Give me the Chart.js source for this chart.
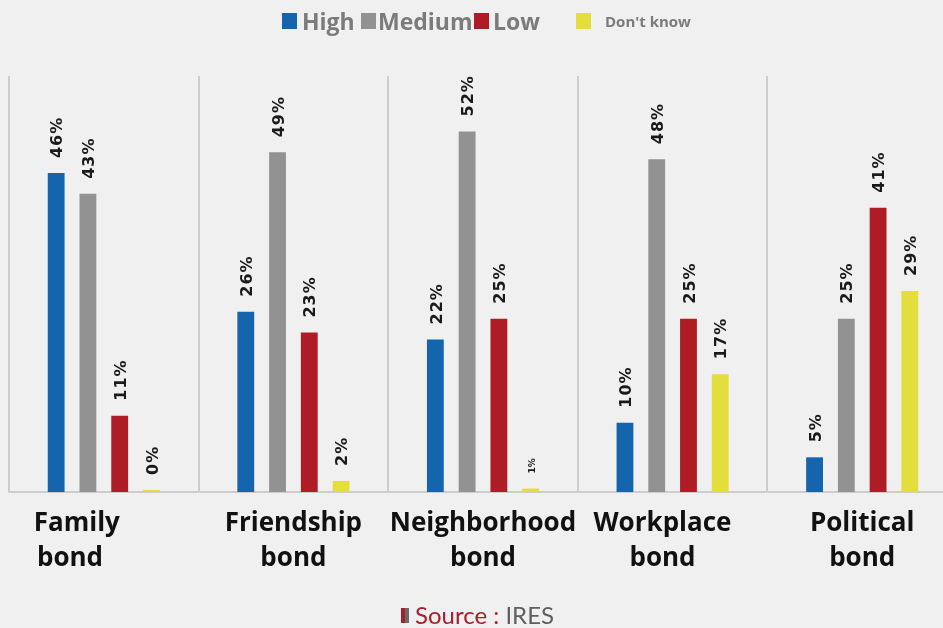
<!DOCTYPE html>
<html>
<head>
<meta charset="utf-8">
<script src="https://cdn.jsdelivr.net/npm/chart.js@4.4.0/dist/chart.umd.min.js"></script>
<style>
  html,body{margin:0;padding:0;background:#f0f0f0;width:943px;height:628px;overflow:hidden;}
  #wrap{position:absolute;left:0;top:0;width:960px;height:628px;}
  #legend{position:absolute;left:0;top:0;width:943px;height:40px;font-family:"Open Sans",sans-serif;font-weight:700;color:#7b7b7b;}
  .lg{position:absolute;top:13px;display:flex;align-items:center;white-space:nowrap;}
  .sw{width:15px;height:16px;display:inline-block;}
  #source{position:absolute;left:401px;top:600px;height:30px;font-family:Lato,"Open Sans",sans-serif;font-size:24px;line-height:30px;white-space:nowrap;display:flex;align-items:center;}
  #source .ic{display:inline-block;width:4px;height:15px;background:#a51f2c;border-right:4px solid #6a6a6a;margin-right:6px;}
  #source .s{color:#a51f2c;}
  #source .i{color:#606060;}
</style>
</head>
<body>
<div id="wrap"><canvas id="c"></canvas></div>
<div id="legend"></div>
<div id="source"><span class="ic"></span><span class="s">Source :&nbsp;</span><span class="i">IRES</span></div>
<script>
// ---- data ----
const categories = [["Family        ", "bond          "], ["Friendship", "bond"], ["Neighborhood", "bond"], ["Workplace   ", "bond   "], ["Political", "bond"]];
const seriesNames = ["High", "Medium", "Low", "Don't know"];
const highValues = [46, 26, 22, 10, 5];
const mediumValues = [43, 49, 52, 48, 25];
const lowValues = [11, 23, 25, 25, 41];
const dontKnowValues = [0.3, 1.6, 0.5, 17, 29];

// ---- styles ----
const colors = ["#1465ad", "#929292", "#ae1d25", "#e3de3c"];
const legendLayout = [
  {left: 282, font: 23, gap: 5},
  {left: 361, font: 23, gap: 2},
  {left: 474, font: 23, gap: 4},
  {left: 576, font: 15, gap: 14}
];

const legendEl = document.getElementById('legend');
seriesNames.forEach((n, i) => {
  const d = document.createElement('div');
  d.className = 'lg';
  d.style.left = legendLayout[i].left + 'px';
  d.style.height = '16px';
  const sw = document.createElement('span');
  sw.className = 'sw';
  sw.style.background = colors[i];
  const t = document.createElement('span');
  t.textContent = n;
  t.style.fontSize = legendLayout[i].font + 'px';
  t.style.marginLeft = legendLayout[i].gap + 'px';
  t.style.lineHeight = '16px';
  d.appendChild(sw); d.appendChild(t);
  legendEl.appendChild(d);
});

const valueLabels = {
  id: 'valueLabels',
  afterDatasetsDraw(chart) {
    const ctx = chart.ctx;
    chart.data.datasets.forEach((ds, di) => {
      const meta = chart.getDatasetMeta(di);
      meta.data.forEach((bar, i) => {
        const v = ds.data[i];
        const size = (ds.labelSizes && ds.labelSizes[i]) || 16;
        ctx.save();
        ctx.translate(bar.x + 2, bar.y - 15);
        ctx.rotate(-Math.PI / 2);
        ctx.font = 'bold ' + size + 'px "DejaVu Sans"';
        if ('letterSpacing' in ctx) ctx.letterSpacing = size > 10 ? '1px' : '0px';
        ctx.fillStyle = '#1a1a1a';
        ctx.textAlign = 'left';
        ctx.textBaseline = 'middle';
        ctx.fillText(Math.round(v) + '%', 0, 0);
        ctx.restore();
      });
    });
  }
};

const valueSets = [highValues, mediumValues, lowValues, dontKnowValues];
new Chart(document.getElementById('c'), {
  type: 'bar',
  data: {
    labels: categories,
    datasets: seriesNames.map((n, i) => ({
      label: n,
      data: valueSets[i],
      backgroundColor: colors[i],
      borderWidth: 0,
      categoryPercentage: 0.67,
      barPercentage: 0.53,
      labelSizes: i === 3 ? [16, 16, 9, 16, 16] : null
    }))
  },
  options: {
    responsive: true,
    maintainAspectRatio: false,
    animation: false,
    devicePixelRatio: 1,
    layout: {padding: {top: 76, left: 9, right: 3, bottom: 0}},
    plugins: {legend: {display: false}, tooltip: {enabled: false}},
    scales: {
      y: {display: false, min: 0, max: 60},
      x: {
        afterFit(scale) { scale.height = 136; },
        grid: {display: true, offset: true, color: '#cdcdcd', lineWidth: 2, drawTicks: false},
        border: {display: true, color: '#cdcdcd', width: 2},
        ticks: {
          color: '#111',
          padding: 14,
          maxRotation: 0,
          autoSkip: false,
          font: {family: '"Open Sans"', size: 26, weight: 'bold', lineHeight: 1.35}
        }
      }
    }
  },
  plugins: [valueLabels]
});
</script>
</body>
</html>
